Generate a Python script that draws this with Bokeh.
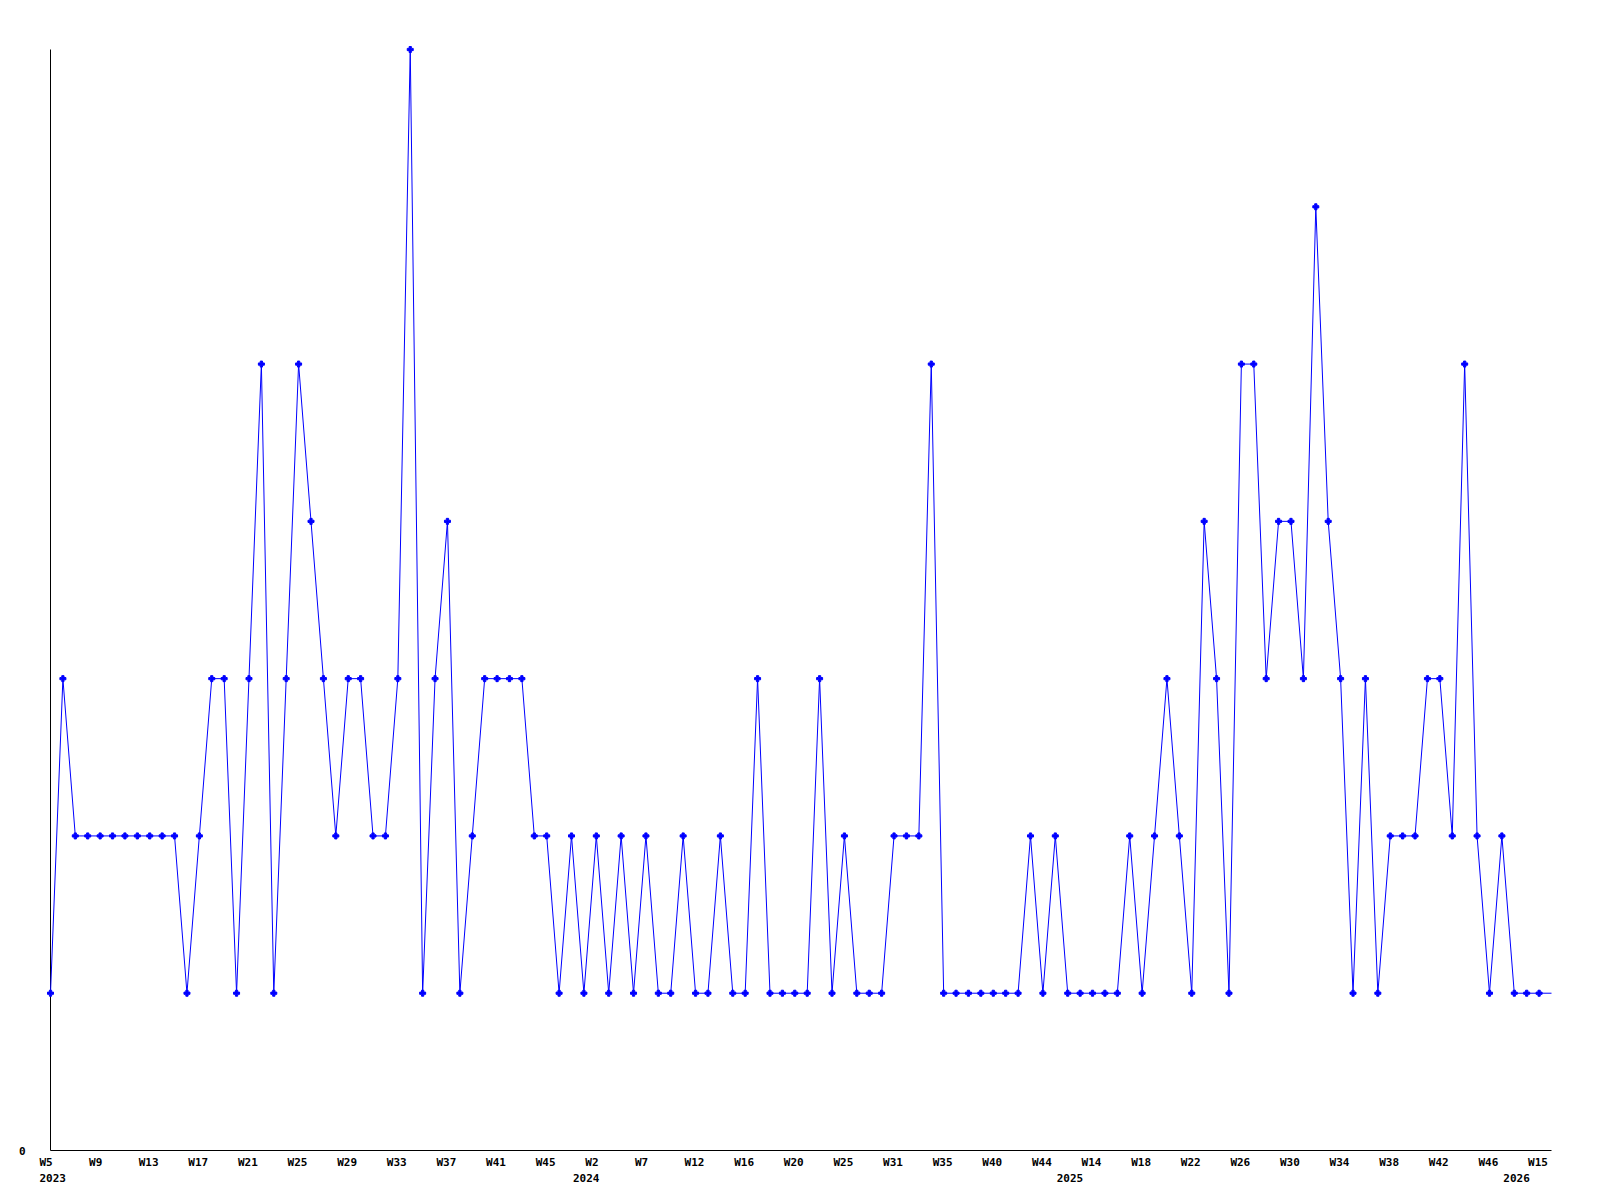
from bokeh.plotting import figure
from bokeh.models import Range1d
from bokeh.core.properties import value
from bokeh.embed import file_html
from bokeh.resources import INLINE

# Weekly counts (one point per recorded week, in order)
values = [1, 3, 2, 2, 2, 2, 2, 2, 2, 2,
          2, 1, 2, 3, 3, 1, 3, 5, 1, 3,
          5, 4, 3, 2, 3, 3, 2, 2, 3, 7,
          1, 3, 4, 1, 2, 3, 3, 3, 3, 2,
          2, 1, 2, 1, 2, 1, 2, 1, 2, 1,
          1, 2, 1, 1, 2, 1, 1, 3, 1, 1,
          1, 1, 3, 1, 2, 1, 1, 1, 2, 2,
          2, 5, 1, 1, 1, 1, 1, 1, 1, 2,
          1, 2, 1, 1, 1, 1, 1, 2, 1, 2,
          3, 2, 1, 4, 3, 1, 5, 5, 3, 4,
          4, 3, 6, 4, 3, 1, 3, 1, 2, 2,
          2, 3, 3, 2, 5, 2, 1, 2, 1, 1,
          1, 1]

# Week tick labels (every 4th recorded week)
week_labels = ["W5", "W9", "W13", "W17", "W21", "W25", "W29", "W33", "W37", "W41", "W45",
               "W2", "W7", "W12", "W16", "W20", "W25", "W31", "W35", "W40", "W44",
               "W14", "W18", "W22", "W26", "W30", "W34", "W38", "W42", "W46",
               "W15"]
week_positions = [4 * k for k in range(len(week_labels))]

# Year labels at the first recorded week of each year
year_labels = ["2023", "2024", "2025", "2026"]
year_positions = [0, 43, 82, 118]

# Y axis labels
y_tick_positions = [0]
y_tick_labels = ["0"]

n = len(values)
xs = list(range(n))
x_max = n - 1
y_max = max(values)

FONT = "DejaVu Sans Mono"
BLUE = "#0000ff"

# Layout (pixels): plotting area inside the canvas
W, H = 1600, 1200
left_px, right_px = 50, 1551
top_px, bottom_px = 49, 1150
ux = (right_px - left_px) / x_max
uy = (bottom_px - top_px) / y_max

p = figure(width=W, height=H,
           x_range=Range1d(-left_px / ux, x_max + (W - right_px) / ux),
           y_range=Range1d(-(H - bottom_px) / uy, y_max + top_px / uy),
           x_axis_type=None, y_axis_type=None,
           output_backend="svg", toolbar_location=None,
           min_border=0, min_border_left=0, min_border_right=0,
           min_border_top=0, min_border_bottom=0)
p.outline_line_color = None
p.background_fill_color = "white"
p.border_fill_color = "white"
p.grid.visible = False

# Axis lines (y axis and x axis) from the data extent
p.segment(x0=[0, 0], y0=[0, 0], x1=[0, x_max], y1=[y_max, 0],
          line_color="black", line_width=1)

# Data line and markers
p.line(xs, values, line_color=BLUE, line_width=1)
p.scatter(xs[:-1], values[:-1], marker="plus", size=6,
          fill_color=BLUE, line_color=BLUE, line_width=1)

# Tick labels
p.text(x=[0] * len(y_tick_positions), y=y_tick_positions, text=y_tick_labels,
       x_offset=-25, y_offset=0,
       text_align="right", text_baseline="middle",
       text_font=value(FONT), text_font_style="bold",
       text_font_size="11px", text_color="black")

p.text(x=week_positions, y=[0] * len(week_positions), text=week_labels,
       x_offset=-11, y_offset=12,
       text_align="left", text_baseline="alphabetic",
       text_font=value(FONT), text_font_style="bold",
       text_font_size="11px", text_color="black")

p.text(x=year_positions, y=[0] * len(year_positions), text=year_labels,
       x_offset=-11, y_offset=27.5,
       text_align="left", text_baseline="alphabetic",
       text_font=value(FONT), text_font_style="bold",
       text_font_size="11px", text_color="black")

open("out.html", "w").write(file_html(p, INLINE))
